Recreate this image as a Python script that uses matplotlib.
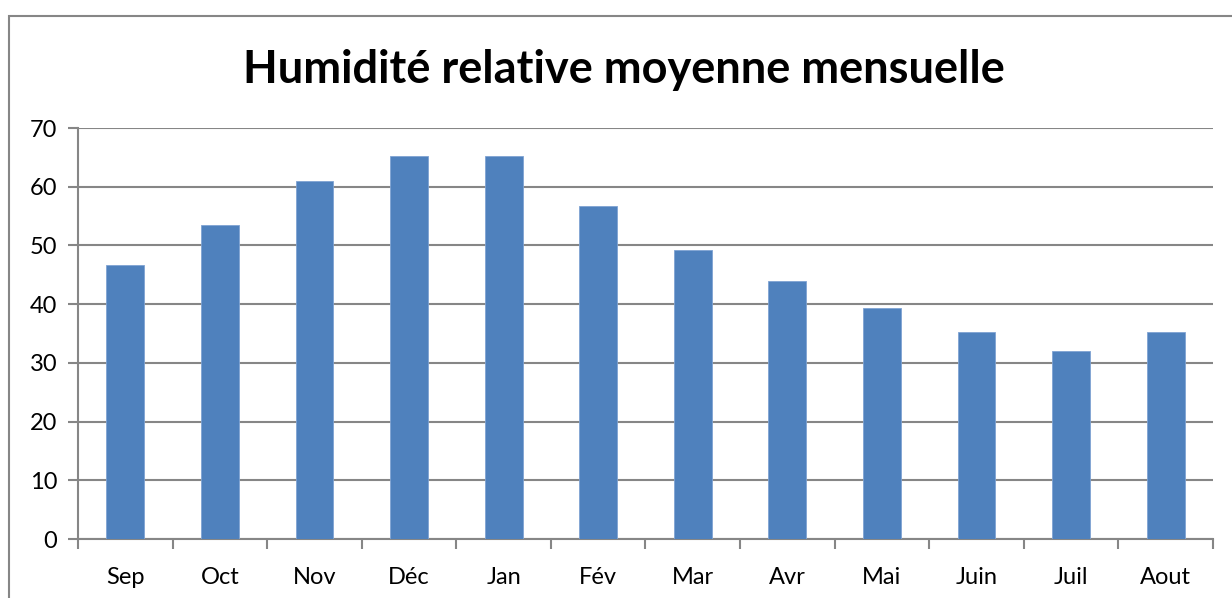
import matplotlib
matplotlib.use("Agg")
import matplotlib.pyplot as plt
from matplotlib.patches import Rectangle

months = ["Sep", "Oct", "Nov", "Déc", "Jan", "Fév", "Mar", "Avr", "Mai", "Juin", "Juil", "Aout"]
humidity = [46.7, 53.4, 61.0, 65.3, 65.2, 56.7, 49.2, 44.0, 39.4, 35.2, 32.1, 35.3]
yticks = [0, 10, 20, 30, 40, 50, 60, 70]
title = "Humidité relative moyenne mensuelle"

W, H = 1232, 598
fig = plt.figure(figsize=(W / 100, H / 100), dpi=100)
fig.patch.set_facecolor("white")

# outer chart border (extends past right/bottom edges)
fig.add_artist(Rectangle((8.5 / W, -0.1), 1.2, (H - 16.5) / H + 0.1,
                         transform=fig.transFigure, fill=False,
                         edgecolor="#868686", linewidth=1.5, clip_on=False))

ax = fig.add_axes([78 / W, (H - 539) / H, (1213 - 78) / W, (539 - 128) / H])
x = list(range(len(months)))
ax.bar(x, humidity, width=0.4, color="#4F81BD", edgecolor="#7FA3D3", linewidth=0.6, zorder=3)
ax.set_xlim(-0.5, len(months) - 0.5)
ax.set_ylim(0, 70)
ax.set_yticks(yticks)
ax.set_yticklabels([str(t) for t in yticks], fontfamily="Lato", fontsize=17)
ax.yaxis.grid(True, color="#868686", linewidth=1.5, zorder=0)
ax.set_axisbelow(True)

ax.set_xticks(x)
ax.set_xticklabels(months, fontfamily="Lato", fontsize=17)
ax.tick_params(axis="x", which="major", length=0, pad=20)
ax.set_xticks([i - 0.5 for i in range(len(months) + 1)], minor=True)
ax.tick_params(axis="x", which="minor", length=7, width=1.5, color="#868686", direction="out")
ax.tick_params(axis="y", length=7, width=1.5, color="#868686", pad=8)

for s in ["top", "right"]:
    ax.spines[s].set_visible(False)
for s in ["left", "bottom"]:
    ax.spines[s].set_color("#868686")
    ax.spines[s].set_linewidth(1.5)

fig.text(624 / W, 1 - 70 / H, title, ha="center", va="center",
         fontfamily="Lato", fontweight="bold", fontsize=32.5)

fig.savefig("out.png", dpi=100, facecolor="white")
